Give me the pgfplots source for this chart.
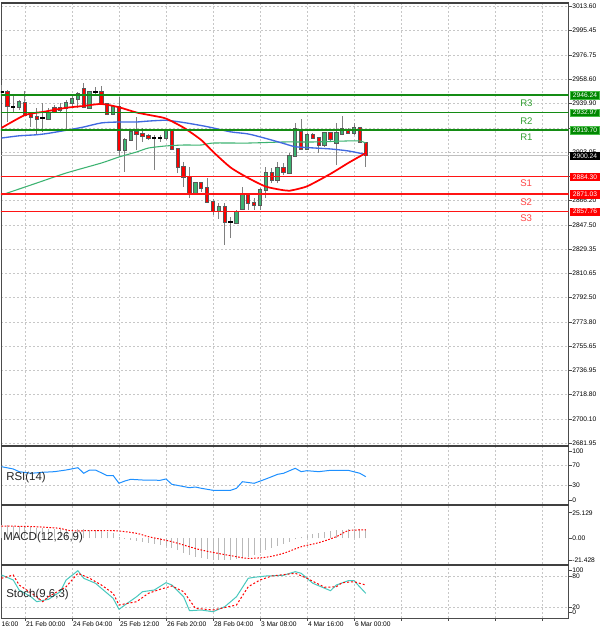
\documentclass[border=0pt]{standalone}
\usepackage{fontspec}
\setmainfont{Liberation Sans}
\usepackage{pgfplots}
\usepackage{pgfplotstable}
\pgfplotsset{compat=1.18}

\definecolor{bullg}{RGB}{60,179,113}
\definecolor{bearr}{RGB}{255,0,0}
\definecolor{wick}{RGB}{128,128,128}
\definecolor{lvlg}{RGB}{20,140,20}
\definecolor{lvlr}{RGB}{255,20,20}
\definecolor{mared}{RGB}{255,0,0}
\definecolor{mablue}{RGB}{65,105,225}
\definecolor{magreen}{RGB}{60,179,113}
\definecolor{rtxt}{RGB}{50,160,50}
\definecolor{stxt}{RGB}{255,70,70}
\definecolor{boxg}{RGB}{0,135,0}
\definecolor{boxgb}{RGB}{70,190,70}
\definecolor{rsic}{RGB}{30,144,255}
\definecolor{stochc}{RGB}{72,200,190}
\definecolor{histc}{RGB}{185,185,185}

\newcommand\tf{\fontsize{5}{6}\selectfont}

\pgfplotstableread{
i o h l c
-1 2937.3 2942.6 2935.0 2941.1
4 2928.2 2936.5 2927.4 2932.8
6 2935.0 2940.4 2933.5 2936.5
7 2936.5 2942.6 2919.8 2940.4
8 2940.4 2945.7 2936.5 2943.4
9 2943.4 2948.7 2936.5 2947.2
11 2936.5 2949.5 2935.8 2948.7
15 2932.0 2938.8 2931.2 2937.3
17 2904.6 2913.7 2887.9 2912.2
18 2912.2 2919.8 2911.5 2918.3
24 2913.7 2919.8 2912.2 2919.1
29 2871.9 2880.3 2871.2 2879.5
33 2858.2 2864.3 2852.2 2861.3
36 2849.1 2859.0 2848.4 2857.5
37 2859.8 2876.5 2859.0 2870.4
40 2862.8 2875.7 2859.0 2874.2
41 2874.2 2891.7 2868.1 2887.1
43 2881.8 2895.5 2879.5 2890.9
45 2887.1 2902.3 2886.4 2900.1
46 2900.1 2925.2 2899.3 2920.6
48 2905.4 2917.5 2904.6 2916.0
51 2908.4 2918.3 2906.9 2917.5
53 2909.9 2925.2 2893.2 2917.5
54 2916.8 2930.5 2916.0 2920.6
56 2917.5 2925.2 2916.0 2921.4
}\bull

\pgfplotstableread{
i o h l c
-3 2948.7 2950.2 2925.9 2938.1
0 2940.4 2949.5 2930.5 2931.2
1 2931.2 2933.5 2922.1 2929.7
2 2929.7 2936.5 2916.0 2928.2
5 2936.5 2938.8 2932.8 2933.5
10 2951.0 2955.6 2936.5 2937.3
13 2948.7 2953.3 2938.8 2939.6
14 2939.6 2940.4 2931.2 2932.0
16 2937.3 2944.9 2899.3 2904.6
19 2918.3 2929.7 2904.6 2916.8
20 2916.8 2921.4 2910.7 2915.3
21 2915.3 2916.8 2912.2 2913.7
25 2919.1 2919.8 2904.6 2905.4
26 2905.4 2906.1 2887.1 2891.7
27 2891.7 2895.5 2876.5 2884.1
28 2884.1 2891.7 2868.1 2871.9
30 2879.5 2880.3 2872.7 2875.7
31 2875.7 2883.3 2864.3 2865.1
32 2865.1 2867.4 2855.2 2858.2
34 2861.3 2864.3 2832.4 2849.9
38 2870.4 2871.9 2859.0 2864.3
39 2864.3 2868.1 2859.0 2862.8
42 2887.1 2890.9 2879.5 2881.8
44 2890.9 2894.7 2885.6 2887.9
47 2918.3 2928.2 2904.6 2905.4
49 2916.0 2917.5 2913.0 2913.7
50 2913.7 2914.5 2902.3 2908.4
52 2917.5 2918.3 2910.7 2913.0
55 2919.1 2921.4 2916.8 2917.5
57 2921.4 2922.1 2909.9 2910.7
58 2909.9 2910.7 2891.7 2900.2
}\bear

\pgfplotstableread{
i o h l c
-4 2948.7 2954.0 2946.4 2948.7
-2 2937.5 2945.7 2933.5 2937.5
3 2929.0 2940.4 2918.3 2929.0
12 2948.7 2952.5 2946.4 2948.7
22 2913.7 2916.0 2889.4 2913.7
23 2913.7 2916.0 2910.7 2913.7
35 2849.9 2853.7 2837.7 2849.9
}\doji

\newcommand\candles[3]{%
 \addplot[draw=none, forget plot, error bars/.cd, y dir=plus, y explicit, error mark=none,
   error bar style={draw=wick, line width=0.75pt}]
   table[x=i, y=l, y error expr={\thisrow{h}-\thisrow{l}}] #1;
 \addplot[draw=none, forget plot, error bars/.cd, y dir=both, y explicit, error mark=none,
   error bar style={draw=#3, line width=3.2pt}]
   table[x=i, y expr={(\thisrow{o}+\thisrow{c})/2}, y error expr={abs(\thisrow{c}-\thisrow{o})/2+0.5}] #1;
 \addplot[draw=none, forget plot, error bars/.cd, y dir=both, y explicit, error mark=none,
   error bar style={draw=#2, line width=1.8pt}]
   table[x=i, y expr={(\thisrow{o}+\thisrow{c})/2}, y error expr={abs(\thisrow{c}-\thisrow{o})/2}] #1;
}

\pgfplotsset{
 mtpanel/.style={
  scale only axis, width=425.625pt, anchor=south west,
  xmin=-4.085, xmax=92.51,
  axis line style={draw=black!70, line width=0.6pt},
  xtick={0,8,...,88}, xticklabels={},
  xmajorgrids, ymajorgrids,
  grid style={draw=black!22, line width=0.5pt, dash pattern=on 1.5pt off 1.5pt},
  ytick pos=right, yticklabel pos=right, xtick pos=left,
  tick align=outside, major tick length=2.25pt,
  tick style={draw=black!70, line width=0.5pt},
  xtick style={draw=none},
  tick label style={font=\tf, text=black},
  yticklabel style={anchor=west, inner sep=0pt, xshift=0.4pt},
 }
}

\begin{document}
\begin{tikzpicture}
\begin{scope}[x=0.75pt, y=0.75pt]
\useasboundingbox (0,0) rectangle (600,634);
\fill[white] (0,0) rectangle (600,634);
\end{scope}

% ---------------- main price panel ----------------
\begin{axis}[mtpanel, at={(0pt,141.75pt)}, height=331.5pt,
  ymin=2680.33, ymax=3016.38,
  ytick={3013.60,2995.45,2976.75,2958.60,2939.90,2921.20,2903.05,2884.35,2866.20,2847.50,2829.35,2810.65,2792.50,2773.80,2755.65,2736.95,2718.80,2700.10,2681.95},
  yticklabels={3013.60,2995.45,2976.75,2958.60,2939.90,{},2903.05,{},2866.20,2847.50,2829.35,2810.65,2792.50,2773.80,2755.65,2736.95,2718.80,2700.10,2681.95},
]
\addplot[black!25, line width=0.75pt, forget plot] coordinates {(-5,2900.24) (93,2900.24)};
\candles{\bull}{bullg}{black!65}
\candles{\bear}{bearr}{black!65}
\candles{\doji}{black}{black}
\addplot[magreen, line width=0.8pt, smooth, tension=0.4] coordinates {
(-4,2870.4) (2,2879.5) (7,2887.1) (13,2894.7) (16,2899.3) (19,2903.1) (21,2906.1) (24,2907.7) (27,2908.4) (30,2908.4) (32,2909.9) (38,2909.9) (44,2910.7) (49,2910.7) (55,2911.5) (57,2911.5) (58,2909.9)};
\addplot[mablue, line width=1.0pt, smooth, tension=0.4] coordinates {
(-4,2913.7) (-1,2915.4) (2,2916.2) (4,2917.3) (7,2919.6) (10,2922.1) (13,2925.2) (16,2925.9) (19,2925.9) (21,2926.6) (24,2927.2) (27,2925.5) (30,2923.2) (32,2921.4) (35,2918.4) (38,2916.8) (41,2913.4) (44,2909.6) (46,2907.1) (49,2906.2) (52,2905.4) (55,2903.9) (58,2901.3)};
\addplot[mared, line width=1.3pt, smooth, tension=0.4] coordinates {
(-4,2921.4) (-2,2926.5) (0,2931.2) (2,2933.0) (3,2933.5) (7,2936.7) (10,2938.1) (13,2939.6) (16,2937.1) (19,2933.1) (22,2930.5) (24,2928.5) (27,2921.6) (30,2912.2) (32,2903.3) (35,2891.3) (38,2883.3) (41,2876.8) (44,2874.0) (45,2873.6) (48,2877.0) (52,2886.5) (55,2894.7) (57,2899.8) (58,2902.3)};
% pivot levels
\addplot[lvlg, line width=1.2pt] coordinates {(-5,2946.24) (93,2946.24)};
\addplot[lvlg, line width=1.2pt] coordinates {(-5,2932.97) (93,2932.97)};
\addplot[lvlg, line width=1.2pt] coordinates {(-5,2919.70) (93,2919.70)};
\addplot[lvlr, line width=1.1pt] coordinates {(-5,2884.30) (93,2884.30)};
\addplot[lvlr, line width=1.1pt] coordinates {(-5,2871.03) (93,2871.03)};
\addplot[lvlr, line width=1.1pt] coordinates {(-5,2857.76) (93,2857.76)};
\coordinate (B1) at (axis cs:92.51,2946.24);
\coordinate (B2) at (axis cs:92.51,2932.97);
\coordinate (B3) at (axis cs:92.51,2919.70);
\coordinate (B4) at (axis cs:92.51,2900.24);
\coordinate (B5) at (axis cs:92.51,2884.30);
\coordinate (B6) at (axis cs:92.51,2871.03);
\coordinate (B7) at (axis cs:92.51,2857.76);
\coordinate (T1) at (axis cs:84.26,2937.46);
\coordinate (T2) at (axis cs:84.26,2924.00);
\coordinate (T3) at (axis cs:84.26,2912.07);
\coordinate (T4) at (axis cs:84.26,2876.64);
\coordinate (T5) at (axis cs:84.26,2862.65);
\coordinate (T6) at (axis cs:84.26,2850.03);
\end{axis}

\begin{scope}[every node/.style={font=\tf, text=white, inner sep=0pt, minimum width=22pt, minimum height=5.6pt, anchor=west, xshift=1.1pt, line width=0.5pt}]
\node[fill=boxg, draw=boxgb] at (B1) {2946.24};
\node[fill=boxg, draw=boxgb] at (B2) {2932.97};
\node[fill=boxg, draw=boxgb] at (B3) {2919.70};
\node[fill=black, draw=black] at (B4) {2900.24};
\node[fill=bearr, draw=bearr] at (B5) {2884.30};
\node[fill=bearr, draw=bearr] at (B6) {2871.03};
\node[fill=bearr, draw=bearr] at (B7) {2857.76};
\end{scope}
\begin{scope}[every node/.style={font=\fontsize{7.2}{8}\selectfont, inner sep=0pt, anchor=base west}]
\node[text=rtxt] at (T1) {R3};
\node[text=rtxt] at (T2) {R2};
\node[text=rtxt] at (T3) {R1};
\node[text=stxt] at (T4) {S1};
\node[text=stxt] at (T5) {S2};
\node[text=stxt] at (T6) {S3};
\end{scope}

% ---------------- RSI ----------------
\begin{axis}[mtpanel, at={(0pt,97.125pt)}, height=43.5pt,
  ymin=-9.18, ymax=109.18,
  ytick={30,70}, yticklabels={30,70},
  extra y ticks={0,100}, extra y tick labels={0,100}, extra y tick style={grid=none},
]
\addplot[rsic, line width=0.75pt] coordinates {
(-4,68.0) (-2,63.3) (-1,57.8) (1,54.5) (3,56.5) (5,57.8) (7,61.2) (9,65.9) (10,54.5) (11,61.2) (12,61.2) (14,49.6) (15,50.0) (16,34.1) (17,38.8) (18,42.2) (20,40.8) (23,40.2) (24,42.9) (25,32.0) (28,25.1) (29,26.5) (30,23.9) (32,19.8) (35,19.8) (36,23.9) (37,37.3) (39,34.1) (41,42.9) (42,47.6) (43,52.4) (44,54.5) (46,64.7) (47,57.8) (48,59.8) (50,57.8) (52,60.6) (54,60.6) (55,60.6) (57,54.5) (58,47.6)};
\end{axis}

% ---------------- MACD ----------------
\begin{axis}[mtpanel, at={(0pt,52.5pt)}, height=43.875pt,
  ymin=-25.3, ymax=32.3, ymajorgrids=false,
  ytick={-21.428,0,25.129}, yticklabels={-21.428,0.00,25.129},
]
\addplot[ycomb, histc, line width=0.75pt] coordinates {
(-4,13) (-3,13) (-2,12) (-1,12) (0,11) (1,11) (2,10) (3,10) (4,9) (5,9) (6,9) (7,9) (8,9) (9,9) (10,9) (11,8) (12,8) (13,7) (14,6) (15,5) (16,1) (17,-1) (18,-2) (19,-3) (20,-4) (21,-5) (22,-6) (23,-7) (24,-8) (25,-10) (26,-12) (27,-14) (28,-16) (29,-18) (30,-19) (31,-20) (32,-21) (33,-21.4) (34,-21) (35,-21) (36,-20.5) (37,-19.5) (38,-18) (39,-16) (40,-14) (41,-12) (42,-10) (43,-8) (44,-6) (45,-4) (46,-1) (47,1) (48,3) (49,4) (50,5) (51,6) (52,7) (53,8) (54,8) (55,9) (56,9) (57,9) (58,9)};
\addplot[bearr, line width=0.75pt, dash pattern=on 1.2pt off 1.2pt, smooth] coordinates {
(-4,12.1) (1,11.6) (3,11) (6,9.8) (8,7.5) (15,7.5) (19,4.9) (21,1.6) (25,-3.3) (30,-11.5) (36,-18.1) (38,-19.7) (41,-18.7) (44,-14.8) (47,-8.3) (50,-4.3) (53,1.6) (55,7.5) (58,8.2)};
\end{axis}

% ---------------- Stochastic ----------------
\begin{axis}[mtpanel, at={(0pt,12pt)}, height=39.375pt,
  ymin=-1.35, ymax=100.25,
  ytick={20,80}, yticklabels={20,80},
  extra y ticks={8.9,90.2}, extra y tick labels={0,100}, extra y tick style={grid=none},
  xtick style={draw=black!70},
  xticklabels={21 Feb 00:00,24 Feb 04:00,25 Feb 12:00,26 Feb 20:00,28 Feb 04:00,3 Mar 08:00,4 Mar 16:00,6 Mar 00:00,{},{},{},{}},
  xticklabel style={anchor=north west, inner sep=0pt, xshift=0.6pt, yshift=-0.5pt},
]
\addplot[stochc, line width=0.75pt] coordinates {
(-4,81.9) (-2,72.2) (-1,52.8) (1,40.0) (2,30.2) (4,34.8) (6,49.5) (7,72.2) (9,90.2) (10,75.5) (12,65.8) (13,56.1) (15,36.8) (16,15.5) (17,23.8) (19,39.9) (20,49.5) (22,52.8) (24,67.0) (25,62.5) (27,39.9) (28,12.8) (30,14.1) (32,10.8) (34,20.5) (36,39.9) (38,75.5) (39,77.4) (41,79.9) (44,81.3) (46,88.3) (47,85.2) (49,65.8) (52,51.5) (53,62.5) (55,70.8) (56,70.8) (58,46.4)};
\addplot[bearr, line width=0.75pt, dash pattern=on 1.5pt off 1.5pt] coordinates {
(-4,75.5) (-2,81.9) (-1,62.5) (2,39.9) (3,30.2) (4,39.9) (7,59.2) (9,85.2) (11,75.5) (13,62.5) (15,46.4) (16,23.8) (19,30.2) (21,46.4) (23,54.2) (25,60.6) (27,49.5) (29,17.4) (32,14.1) (36,23.8) (38,59.2) (40,72.2) (42,79.9) (46,85.2) (48,75.5) (51,58.1) (53,59.2) (54,67.0) (56,68.9) (58,62.5)};
\end{axis}

% panel separators and labels
\begin{scope}[x=0.75pt, y=0.75pt]
\draw[black!75, line width=1.5pt] (0,631) -- (567.5,631);
\draw[black!75, line width=1.5pt] (0,187.5) -- (567.5,187.5);
\draw[black!75, line width=1.5pt] (0,128.5) -- (567.5,128.5);
\draw[black!75, line width=1.5pt] (0,68.5) -- (567.5,68.5);
\node[font=\fontsize{8.6}{10}\selectfont, text=black!85, anchor=west, inner sep=0pt] at (5,156.5) {RSI(14)};
\node[font=\fontsize{8.6}{10}\selectfont, text=black!85, anchor=west, inner sep=0pt] at (2,96.7) {MACD(12,26,9)};
\node[font=\fontsize{8.6}{10}\selectfont, text=black!85, anchor=west, inner sep=0pt] at (5,39) {Stoch(9,6,3)};
\node[font=\tf, anchor=north west, inner sep=0pt] at (0.3,12.3) {16:00};
\end{scope}
\end{tikzpicture}
\end{document}
